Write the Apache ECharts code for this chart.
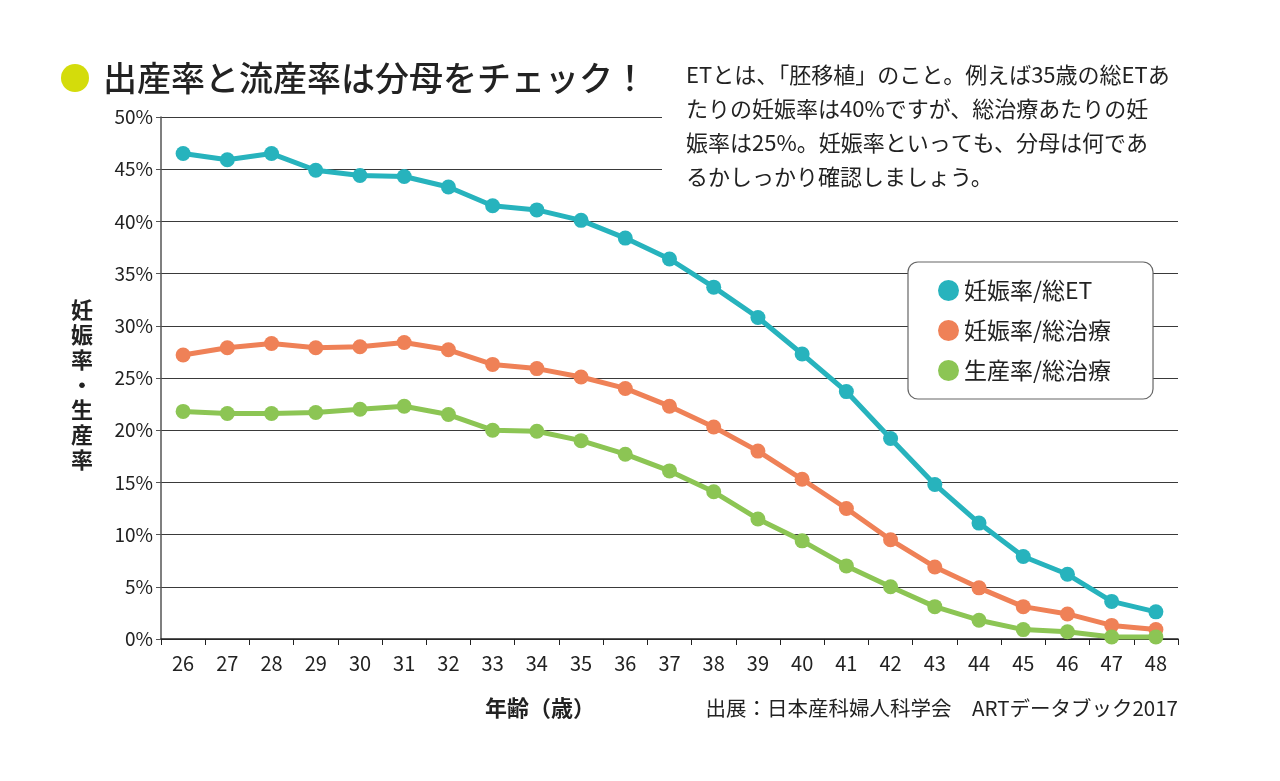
<!DOCTYPE html>
<html><head><meta charset="utf-8">
<script src="https://cdn.jsdelivr.net/npm/echarts@6/dist/echarts.min.js"></script>
<style>html,body{margin:0;padding:0;background:#fff}#c{width:1280px;height:781px}</style>
</head><body><div id="c"></div>
<script>
const ages = ['26','27','28','29','30','31','32','33','34','35','36','37','38','39','40','41','42','43','44','45','46','47','48'];
const pregPerET = [46.5,45.9,46.5,44.9,44.4,44.3,43.3,41.5,41.1,40.1,38.4,36.4,33.7,30.8,27.3,23.7,19.2,14.8,11.1,7.9,6.2,3.6,2.6];
const pregPerTreat = [27.2,27.9,28.3,27.9,28.0,28.4,27.7,26.3,25.9,25.1,24.0,22.3,20.3,18.0,15.3,12.5,9.5,6.9,4.9,3.1,2.4,1.3,0.9];
const livePerTreat = [21.8,21.6,21.6,21.7,22.0,22.3,21.5,20.0,19.9,19.0,17.7,16.1,14.1,11.5,9.4,7.0,5.0,3.1,1.8,0.9,0.7,0.2,0.2];
const seriesNames = ['妊娠率/総ET','妊娠率/総治療','生産率/総治療'];
const colors = ['#27b3bd','#ef8157','#8cc554'];
const titleText = '出産率と流産率は分母をチェック！';
const noteLines = ['ETとは、「胚移植」のこと。例えば35歳の総ETあ','たりの妊娠率は40%ですが、総治療あたりの妊','娠率は25%。妊娠率といっても、分母は何であ','るかしっかり確認しましょう。'];
const yName = '妊娠率・生産率';
const xName = '年齢（歳）';
const sourceText = '出展：日本産科婦人科学会　ARTデータブック2017';

const FONT = '"Noto Sans CJK JP", "Noto Sans", sans-serif';
const chart = echarts.init(document.getElementById('c'));
const dataSets = [pregPerET, pregPerTreat, livePerTreat];

const graphics = [
  {type:'rect', z:1, shape:{x:662,y:45,width:560,height:155}, style:{fill:'#fff'}},
  {type:'circle', z:5, shape:{cx:75,cy:78,r:14}, style:{fill:'#d4dc0b'}},
  {type:'text', z:5, x:103, y:78, style:{text:titleText, font:'500 34px '+FONT, fill:'#222', textVerticalAlign:'middle'}},
  {type:'text', z:5, x:82, y:385, style:{text:yName.split('').join('\n'), font:'bold 22px '+FONT, fill:'#222', textAlign:'center', textVerticalAlign:'middle', lineHeight:25}},
  {type:'text', z:5, x:540, y:708, style:{text:xName, font:'bold 22px '+FONT, fill:'#222', textAlign:'center', textVerticalAlign:'middle'}},
  {type:'text', z:5, x:1178, y:708, style:{text:sourceText, font:'20.5px '+FONT, fill:'#222', textAlign:'right', textVerticalAlign:'middle'}}
];
noteLines.forEach((t,i)=>{
  graphics.push({type:'text', z:5, x:686, y:75+i*34, style:{text:t, font:'22px '+FONT, fill:'#222', textVerticalAlign:'middle'}});
});

chart.setOption({
  animation:false,
  textStyle:{fontFamily:FONT},
  grid:{left:161, right:102, top:117, bottom:142, containLabel:false},
  legend:{
    orient:'vertical', left:908, top:262, icon:'circle',
    itemWidth:21, itemHeight:21, itemGap:17,
    padding:[17,42,17,30],
    backgroundColor:'#fff', borderColor:'#666', borderWidth:1.2, borderRadius:10,
    textStyle:{fontSize:23, color:'#222', fontFamily:FONT},
    data:seriesNames, z:10
  },
  xAxis:{
    type:'category', data:ages, boundaryGap:true,
    axisLine:{lineStyle:{color:'#222', width:1.5}},
    axisTick:{show:true, length:6, lineStyle:{color:'#222'}},
    axisLabel:{fontSize:20, color:'#222', margin:14, fontFamily:FONT}
  },
  yAxis:{
    type:'value', min:0, max:50, interval:5,
    axisLine:{show:true, lineStyle:{color:'#555', width:1.5}},
    axisTick:{show:true, length:5, lineStyle:{color:'#555'}},
    axisLabel:{formatter:'{value}%', fontSize:19, color:'#222', margin:8, fontFamily:FONT},
    splitLine:{lineStyle:{color:'#3a3a3a', width:1.2}}
  },
  graphic:graphics,
  series:seriesNames.map((n,i)=>({
    name:n, type:'line', data:dataSets[i], z:3,
    symbol:'circle', symbolSize:15,
    lineStyle:{width:5, color:colors[i]},
    itemStyle:{color:colors[i]}
  }))
});
</script></body></html>
